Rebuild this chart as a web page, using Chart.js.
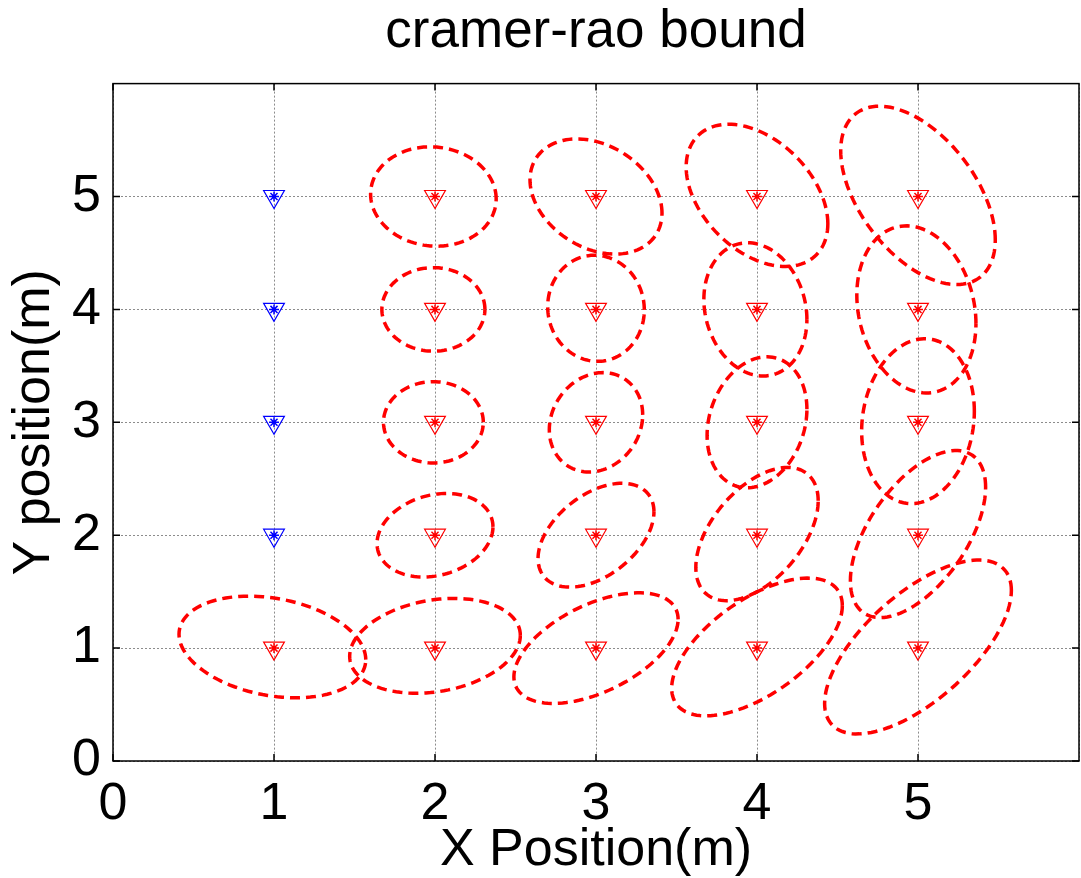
<!DOCTYPE html>
<html>
<head>
<meta charset="utf-8">
<script src="https://cdn.jsdelivr.net/npm/chart.js@4.4.1/dist/chart.umd.min.js"></script>
<style>
    html, body { margin: 0; padding: 0; background: #fff; overflow: hidden; }
    canvas { display: block; }
</style>
</head>
<body>
<canvas id="crbChart" width="1081" height="878"></canvas>
<script>
// Anchor nodes (blue) and target nodes (red), metres
const anchorX = [1, 1, 1, 1];
const anchorY = [2, 3, 4, 5];
const targetX = [1, 2, 3, 4, 5, 2, 3, 4, 5, 2, 3, 4, 5, 2, 3, 4, 5, 2, 3, 4, 5];
const targetY = [1, 1, 1, 1, 1, 2, 2, 2, 2, 3, 3, 3, 3, 4, 4, 4, 4, 5, 5, 5, 5];

// CRB ellipses: centre, x/y spread (m) and correlation, same order as targets
const ellCx = [0.99, 2.0, 3.0, 4.0, 5.0, 2.0, 3.0, 4.0, 5.0, 1.99, 3.0, 4.0, 5.0, 1.99, 3.0, 3.99, 4.99, 1.99, 3.0, 4.0, 5.0];
const ellCy = [1.01, 1.02, 1.0, 1.01, 1.01, 2.0, 2.0, 2.01, 2.01, 3.0, 3.0, 3.0, 3.01, 4.0, 4.01, 4.0, 4.0, 5.0, 5.0, 5.01, 5.01];
const ellSx = [0.58, 0.53, 0.51, 0.53, 0.58, 0.36, 0.36, 0.38, 0.42, 0.31, 0.29, 0.31, 0.35, 0.32, 0.30, 0.32, 0.37, 0.39, 0.41, 0.44, 0.48];
const ellSy = [0.45, 0.42, 0.49, 0.61, 0.77, 0.37, 0.46, 0.59, 0.74, 0.36, 0.44, 0.58, 0.73, 0.37, 0.47, 0.59, 0.74, 0.44, 0.51, 0.63, 0.79];
const ellRho = [-0.25, 0.22, 0.52, 0.6, 0.65, 0.2, 0.45, 0.5, 0.56, 0, 0.15, 0.2, 0.12, 0, -0.03, -0.15, -0.17, -0.05, -0.29, -0.4, -0.5];

const axisTicks = [0, 1, 2, 3, 4, 5];

const FONT = "'Liberation Sans', Arial, sans-serif";

function ellipsePoints(i) {
    const pts = [];
    const k = Math.sqrt(1 - ellRho[i] * ellRho[i]);
    for (let s = 0; s <= 120; s++) {
        const t = (s / 120) * 2 * Math.PI;
        pts.push({
            x: ellCx[i] + ellSx[i] * Math.cos(t),
            y: ellCy[i] + ellSy[i] * (ellRho[i] * Math.cos(t) + k * Math.sin(t))
        });
    }
    return pts;
}

const datasets = [];

// Ellipses
ellCx.forEach((_, i) => {
    datasets.push({
        data: ellipsePoints(i),
        showLine: true,
        borderColor: '#FF0000',
        borderWidth: 3.5,
        borderDash: [10, 6],
        pointRadius: 0,
        fill: false,
        tension: 0
    });
});

// Markers
const anchorPts = anchorX.map((x, i) => ({ x: x, y: anchorY[i] }));
const targetPts = targetX.map((x, i) => ({ x: x, y: targetY[i] }));

datasets.push({
    data: anchorPts,
    pointStyle: 'triangle',
    rotation: 180,
    pointRadius: 12,
    borderColor: '#0000FF',
    backgroundColor: 'rgba(0,0,0,0)',
    borderWidth: 1.2
});
datasets.push({
    data: anchorPts,
    pointStyle: 'star',
    pointRadius: 5,
    borderColor: '#0000FF',
    borderWidth: 1.5
});
datasets.push({
    data: targetPts,
    pointStyle: 'triangle',
    rotation: 180,
    pointRadius: 12,
    borderColor: '#FF0000',
    backgroundColor: 'rgba(0,0,0,0)',
    borderWidth: 1.2
});
datasets.push({
    data: targetPts,
    pointStyle: 'star',
    pointRadius: 5,
    borderColor: '#FF0000',
    borderWidth: 1.5
});

// Box + inward tick marks
const boxPlugin = {
    id: 'box',
    afterDraw(chart) {
        const { ctx, chartArea: a, scales } = chart;
        ctx.save();
        ctx.strokeStyle = '#000';
        ctx.lineWidth = 1.5;
        ctx.strokeRect(a.left, a.top, a.right - a.left, a.bottom - a.top);
        ctx.beginPath();
        axisTicks.forEach(v => {
            const px = scales.x.getPixelForValue(v);
            ctx.moveTo(px, a.bottom); ctx.lineTo(px, a.bottom - 7);
            ctx.moveTo(px, a.top); ctx.lineTo(px, a.top + 7);
            const py = scales.y.getPixelForValue(v);
            ctx.moveTo(a.left, py); ctx.lineTo(a.left + 7, py);
            ctx.moveTo(a.right, py); ctx.lineTo(a.right - 7, py);
        });
        ctx.stroke();
        ctx.restore();
    }
};

new Chart(document.getElementById('crbChart').getContext('2d'), {
    type: 'scatter',
    data: { datasets: datasets },
    options: {
        responsive: false,
        animation: false,
        layout: { autoPadding: false, padding: { left: 0, right: 2, top: 0, bottom: 0 } },
        plugins: {
            legend: { display: false },
            tooltip: { enabled: false },
            title: {
                display: true,
                fullSize: false,
                text: 'cramer-rao bound',
                color: '#000',
                font: { family: FONT, size: 53, weight: 'normal' },
                padding: { top: 1, bottom: 19 }
            }
        },
        scales: {
            x: {
                type: 'linear',
                min: 0,
                max: 6,
                afterFit: (scale) => { scale.height = 117; scale.paddingRight = 0; },
                grid: { color: '#8c8c8c', lineWidth: 1, drawTicks: false },
                border: { display: false, dash: [2, 2] },
                ticks: {
                    stepSize: 1,
                    padding: 12,
                    color: '#000',
                    font: { family: FONT, size: 52 },
                    callback: (v) => (axisTicks.includes(v) ? v : '')
                },
                title: {
                    display: true,
                    text: 'X Position(m)',
                    color: '#000',
                    font: { family: FONT, size: 52 },
                    padding: { top: 0, bottom: -4 }
                }
            },
            y: {
                type: 'linear',
                min: 0,
                max: 6,
                afterFit: (scale) => { scale.width = 113; },
                grid: { color: '#8c8c8c', lineWidth: 1, drawTicks: false },
                border: { display: false, dash: [2, 2] },
                ticks: {
                    stepSize: 1,
                    padding: 12,
                    color: '#000',
                    font: { family: FONT, size: 52 },
                    callback: (v) => (axisTicks.includes(v) ? v : '')
                },
                title: {
                    display: true,
                    text: 'Y position(m)',
                    color: '#000',
                    font: { family: FONT, size: 52 },
                    padding: { top: 3, bottom: 0 }
                }
            }
        }
    },
    plugins: [boxPlugin]
});
</script>
</body>
</html>
